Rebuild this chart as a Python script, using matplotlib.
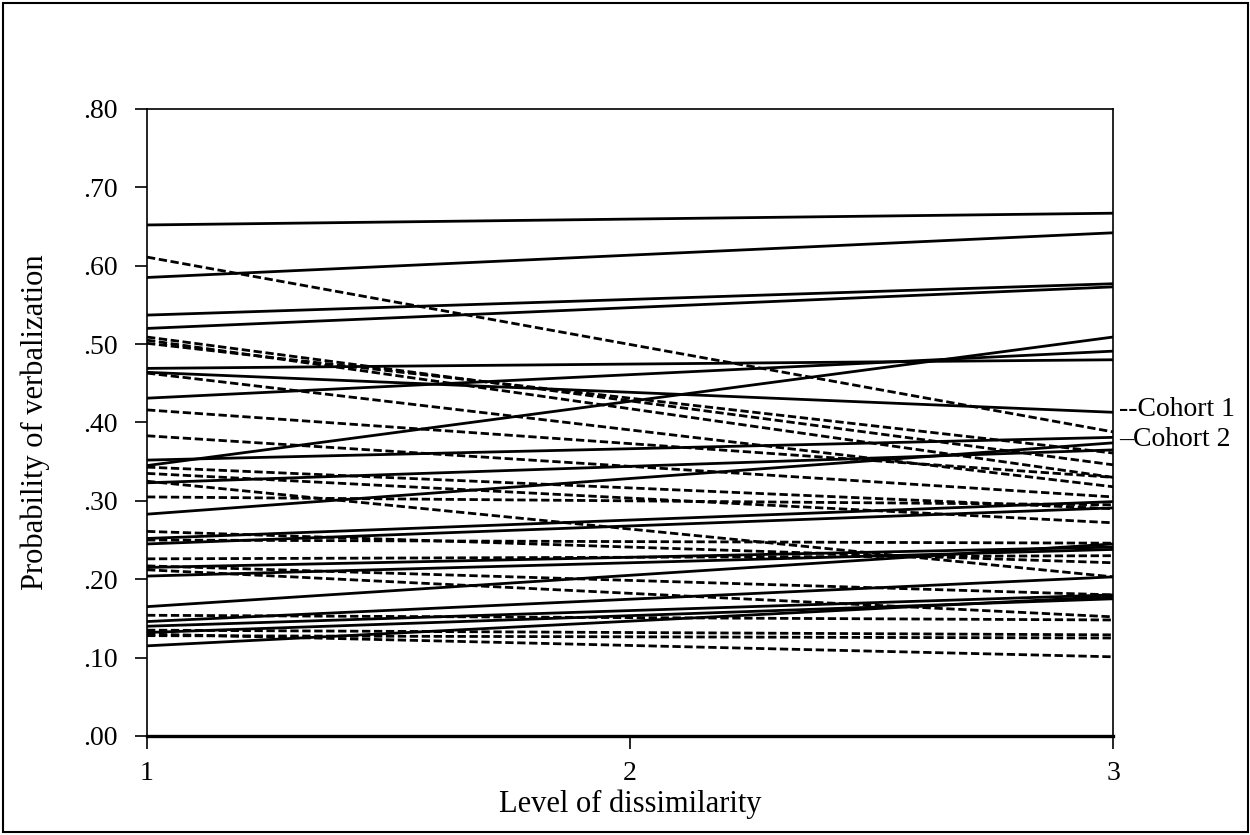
import matplotlib.pyplot as plt
from matplotlib.patches import Rectangle

# Níveis de dissimilaridade (extremos das retas)
levels = [1, 3]

# Cohort 1 (tracejado): valor no nível 1 e no nível 3
cohort1_start = [0.611, 0.509, 0.505, 0.501, 0.463, 0.416, 0.383, 0.343, 0.335, 0.325,
                 0.305, 0.261, 0.250, 0.226, 0.217, 0.212, 0.154, 0.135, 0.130, 0.128]
cohort1_end = [0.388, 0.346, 0.330, 0.361, 0.318, 0.330, 0.305, 0.290, 0.272, 0.203,
               0.295, 0.221, 0.246, 0.230, 0.180, 0.152, 0.148, 0.129, 0.101, 0.125]

# Cohort 2 (contínuo)
cohort2_start = [0.652, 0.585, 0.537, 0.520, 0.469, 0.464, 0.431, 0.345, 0.352, 0.323,
                 0.283, 0.252, 0.245, 0.215, 0.204, 0.165, 0.146, 0.140, 0.132, 0.115]
cohort2_end = [0.667, 0.642, 0.577, 0.573, 0.480, 0.413, 0.491, 0.509, 0.381, 0.365,
               0.374, 0.299, 0.291, 0.241, 0.238, 0.245, 0.203, 0.180, 0.175, 0.178]

yticks = [0.0, 0.1, 0.2, 0.3, 0.4, 0.5, 0.6, 0.7, 0.8]
ytick_labels = ['.00', '.10', '.20', '.30', '.40', '.50', '.60', '.70', '.80']

plt.rcParams['font.family'] = ['Liberation Serif', 'DejaVu Serif']

fig = plt.figure(figsize=(12.5, 8.35), dpi=100)
ax = fig.add_axes([0.1176, 0.1186, 0.7728, 0.7509])

for a, b in zip(cohort1_start, cohort1_end):
    ax.plot(levels, [a, b], color='black', lw=2.0, linestyle=(0, (3, 1.3)))
for a, b in zip(cohort2_start, cohort2_end):
    ax.plot(levels, [a, b], color='black', lw=2.0, linestyle='-')

ax.set_xlim(1, 3)
ax.set_ylim(0, 0.8)
ax.set_xticks([1, 2, 3])
ax.set_xticklabels(['1', '2', '3'], fontsize=20)
ax.set_yticks(yticks)
ax.set_yticklabels(ytick_labels, fontsize=20)
ax.tick_params(axis='both', direction='out', length=9, width=1.2, colors='black')
ax.tick_params(axis='x', pad=9)
ax.tick_params(axis='y', pad=12)
ax.spines['bottom'].set_linewidth(2.4)
for s in ['left', 'top', 'right']:
    ax.spines[s].set_linewidth(1.2)

ax.set_xlabel('Level of dissimilarity', fontsize=22)
ax.set_ylabel('Probability of verbalization', fontsize=22)
ax.xaxis.set_label_coords(0.5, -0.086)
ax.yaxis.set_label_coords(-0.100, 0.5)

# Legenda ao lado direito
ax.text(1.006, 0.416, '--Cohort 1', transform=ax.get_yaxis_transform(),
        fontsize=20, va='center', ha='left', clip_on=False)
ax.text(1.006, 0.378, '\u2013Cohort 2', transform=ax.get_yaxis_transform(),
        fontsize=20, va='center', ha='left', clip_on=False)

# Moldura externa
fig.patches.append(Rectangle((0.002, 0.003), 0.996, 0.994, transform=fig.transFigure,
                             fill=False, edgecolor='black', lw=1.5))

fig.savefig('out.png', dpi=100)
